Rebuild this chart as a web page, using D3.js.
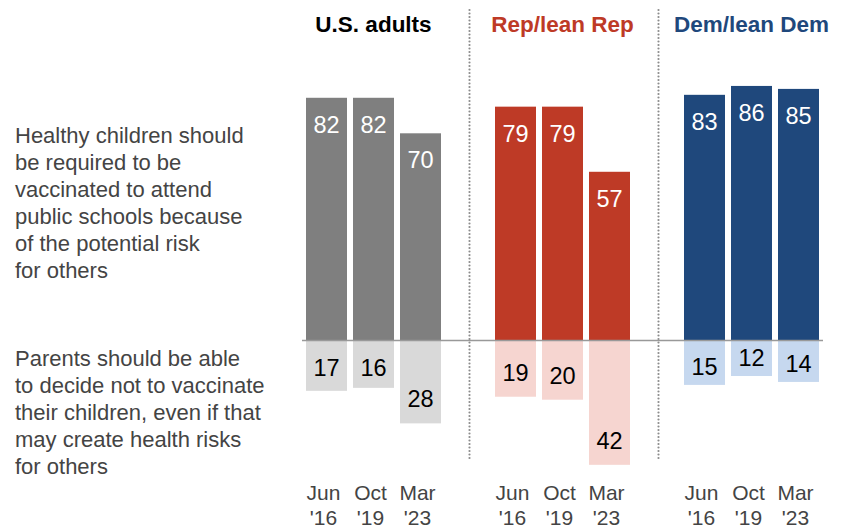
<!DOCTYPE html>
<html>
<head>
<meta charset="utf-8">
<script src="https://cdn.jsdelivr.net/npm/d3@7"></script>
<style>
  body { margin: 0; background: #fff; }
  svg { display: block; font-family: "Liberation Sans", Arial, sans-serif; }
</style>
</head>
<body>
<div id="chart"></div>
<script>
// data
const groups = ["U.S. adults", "Rep/lean Rep", "Dem/lean Dem"];
const periods = ["Jun '16", "Oct '19", "Mar '23"];
const required = [[82, 82, 70], [79, 79, 57], [83, 86, 85]];
const parentsDecide = [[17, 16, 28], [19, 20, 42], [15, 12, 14]];
const requiredLabel = ["Healthy children should", "be required to be", "vaccinated to attend",
  "public schools because", "of the potential risk", "for others"];
const decideLabel = ["Parents should be able", "to decide not to vaccinate",
  "their children, even if that", "may create health risks", "for others"];

const width = 842, height = 529;
const darkColors = ["#7f7f7f", "#be3a26", "#1f487c"];
const lightColors = ["#d9d9d9", "#f6d5d0", "#c6d8ef"];
const titleColors = ["#000000", "#be3a26", "#1f487c"];

const svg = d3.select("#chart").append("svg")
  .attr("width", width)
  .attr("height", height);

const x0 = d3.scaleBand()
  .domain(groups)
  .range([306, 819])
  .paddingInner(54 / 189);

const x1 = d3.scaleBand()
  .domain(periods)
  .range([0, x0.bandwidth()])
  .paddingInner(6 / 47);

const y = d3.scaleLinear()
  .domain([-60, 100])
  .range([340.5 + 60 * 2.96, 340.5 - 100 * 2.96]);

// separators between groups
const seps = groups.slice(1).map((g, i) => (x0(groups[i]) + x0.bandwidth() + x0(g)) / 2 + 1.5);
svg.append("g")
  .selectAll("line")
  .data(seps)
  .join("line")
    .attr("x1", d => d).attr("x2", d => d)
    .attr("y1", 10).attr("y2", 461)
    .attr("stroke", "#8c8c8c")
    .attr("stroke-width", 2.2)
    .attr("stroke-linecap", "round")
    .attr("stroke-dasharray", "0 3.5");

// group titles
svg.append("g")
  .selectAll("text")
  .data(groups)
  .join("text")
    .attr("x", d => x0(d) + x0.bandwidth() / 2)
    .attr("y", 32)
    .attr("text-anchor", "middle")
    .attr("font-size", 22.5)
    .attr("font-weight", "bold")
    .attr("fill", (d, i) => titleColors[i])
    .text(d => d);

const gGroups = svg.append("g")
  .selectAll("g")
  .data(groups)
  .join("g")
    .attr("transform", d => `translate(${x0(d)},0)`);

gGroups.each(function(g, gi) {
  const sel = d3.select(this);
  const up = required[gi].map((v, i) => ({ period: periods[i], v }));
  const down = parentsDecide[gi].map((v, i) => ({ period: periods[i], v }));

  // upper bars
  sel.selectAll("rect.up")
    .data(up)
    .join("rect")
      .attr("class", "up")
      .attr("x", d => x1(d.period))
      .attr("y", d => y(d.v))
      .attr("width", x1.bandwidth())
      .attr("height", d => y(0) - y(d.v))
      .attr("fill", darkColors[gi]);

  sel.selectAll("text.up")
    .data(up)
    .join("text")
      .attr("class", "up")
      .attr("x", d => x1(d.period) + x1.bandwidth() / 2)
      .attr("y", d => y(d.v) + 35)
      .attr("text-anchor", "middle")
      .attr("font-size", 23.5)
      .attr("fill", "#fff")
      .text(d => d.v);

  // lower bars
  sel.selectAll("rect.down")
    .data(down)
    .join("rect")
      .attr("class", "down")
      .attr("x", d => x1(d.period))
      .attr("y", y(0))
      .attr("width", x1.bandwidth())
      .attr("height", d => y(-d.v) - y(0))
      .attr("fill", lightColors[gi]);

  sel.selectAll("text.down")
    .data(down)
    .join("text")
      .attr("class", "down")
      .attr("x", d => x1(d.period) + x1.bandwidth() / 2)
      .attr("y", d => Math.min(Math.max(y(-d.v) - 16, y(0) + 35), y(-d.v) - 10))
      .attr("text-anchor", "middle")
      .attr("font-size", 23.5)
      .attr("fill", "#000")
      .text(d => d.v);

  // period labels
  const lbl = sel.selectAll("text.period")
    .data(periods)
    .join("text")
      .attr("class", "period")
      .attr("x", d => x1(d) + x1.bandwidth() / 2 - 3)
      .attr("y", 500)
      .attr("text-anchor", "middle")
      .attr("font-size", 21)
      .attr("fill", "#444");
  lbl.selectAll("tspan")
    .data(d => d.split(" "))
    .join("tspan")
      .attr("x", function() { return d3.select(this.parentNode).attr("x"); })
      .attr("dy", (d, i) => i === 0 ? 0 : 25)
      .text(d => d);
});

// zero line
svg.append("line")
  .attr("x1", 302).attr("x2", 823)
  .attr("y1", y(0)).attr("y2", y(0))
  .attr("stroke", "#999")
  .attr("stroke-width", 1.5);

// row labels on the left
const rowLabel = (lines, y0) => svg.append("text")
  .attr("x", 15)
  .attr("y", y0)
  .attr("font-size", 22)
  .attr("fill", "#444")
  .selectAll("tspan")
  .data(lines)
  .join("tspan")
    .attr("x", 15)
    .attr("dy", (d, i) => i === 0 ? 0 : 27)
    .text(d => d);

rowLabel(requiredLabel, 143);
rowLabel(decideLabel, 366);
</script>
</body>
</html>
